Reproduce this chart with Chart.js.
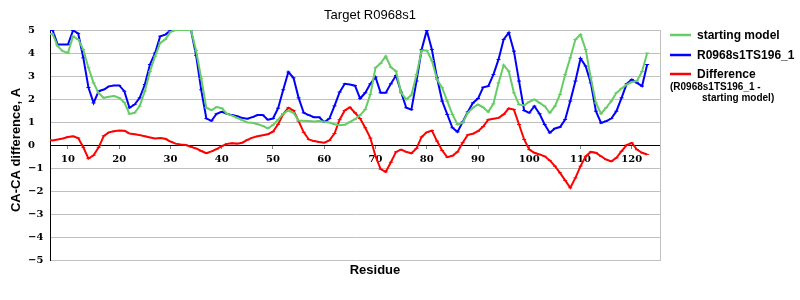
<!DOCTYPE html>
<html>
<head>
<meta charset="utf-8">
<title>Target R0968s1</title>
<script src="https://cdn.jsdelivr.net/npm/chart.js@4/dist/chart.umd.min.js"></script>
<style>
  html, body { margin: 0; padding: 0; background: #fff; }
  #wrap { width: 800px; height: 300px; }
</style>
</head>
<body>
<div id="wrap"><canvas id="chart" width="800" height="300"></canvas></div>
<script>
// residue numbers run from firstResidue, one value per residue
const firstResidue = 6;

const startingModel = [
  4.83, 4.83, 4.30, 4.08, 4.00, 4.73, 4.59, 4.15, 3.36, 2.70,
  2.25, 2.05, 2.10, 2.13, 2.05, 1.85, 1.35, 1.40, 1.69, 2.34,
  3.20, 3.86, 4.44, 4.59, 4.92, 5.00, 5.00, 5.00, 5.00, 4.10,
  2.90, 1.62, 1.52, 1.65, 1.60, 1.36, 1.28, 1.18, 1.08, 0.98,
  0.97, 0.90, 0.83, 0.72, 0.87, 1.10, 1.36, 1.50, 1.40, 1.06,
  1.05, 1.04, 1.02, 1.04, 1.01, 0.98, 0.90, 0.86, 0.88, 1.00,
  1.12, 1.30, 1.54, 2.20, 3.36, 3.55, 3.86, 3.38, 3.21, 2.27,
  1.98, 2.17, 3.06, 4.11, 4.11, 3.67, 2.85, 2.49, 1.91, 1.33,
  0.89, 0.96, 1.40, 1.62, 1.76, 1.64, 1.44, 1.79, 2.70, 3.47,
  3.21, 2.27, 1.76, 1.73, 1.88, 1.98, 1.83, 1.69, 1.40, 1.69,
  2.20, 3.06, 3.79, 4.59, 4.80, 4.15, 2.92, 1.83, 1.36, 1.62,
  1.91, 2.27, 2.46, 2.63, 2.74, 2.78, 3.20, 4.00
];

const modelR0968s1TS196 = [
  5.00, 5.00, 4.37, 4.37, 4.37, 4.98, 4.85, 3.79, 2.50, 1.83,
  2.34, 2.41, 2.55, 2.59, 2.59, 2.34, 1.62, 1.76, 2.05, 2.63,
  3.50, 4.00, 4.73, 4.80, 4.98, 5.00, 5.00, 5.00, 5.00, 3.90,
  2.40, 1.15, 1.05, 1.36, 1.44, 1.36, 1.30, 1.25, 1.18, 1.14,
  1.21, 1.30, 1.30, 1.10, 1.15, 1.60, 2.40, 3.17, 2.92, 2.05,
  1.40, 1.30, 1.21, 1.21, 1.00, 1.15, 1.70, 2.30, 2.66, 2.63,
  2.58, 2.02, 2.27, 2.66, 2.95, 2.27, 2.27, 2.66, 3.02, 2.30,
  1.62, 1.54, 2.78, 4.15, 4.98, 4.15, 2.92, 1.91, 1.33, 0.75,
  0.57, 1.00, 1.44, 1.83, 2.02, 2.51, 2.56, 3.06, 3.72, 4.59,
  4.88, 4.08, 2.78, 1.50, 1.40, 1.69, 1.36, 0.89, 0.53, 0.72,
  0.78, 1.11, 1.91, 2.78, 3.76, 3.43, 2.70, 1.47, 0.96, 1.04,
  1.15, 1.47, 2.05, 2.66, 2.85, 2.70, 2.56, 3.50
];

const difference = [
  0.24, 0.20, 0.24, 0.28, 0.35, 0.38, 0.30, -0.10, -0.59, -0.45,
  -0.10, 0.40, 0.55, 0.60, 0.63, 0.62, 0.50, 0.47, 0.43, 0.38,
  0.33, 0.28, 0.30, 0.27, 0.15, 0.06, 0.02, 0.00, -0.08, -0.15,
  -0.26, -0.36, -0.28, -0.18, -0.05, 0.05, 0.08, 0.06, 0.10, 0.22,
  0.32, 0.38, 0.42, 0.47, 0.58, 0.90, 1.35, 1.62, 1.50, 1.04,
  0.55, 0.24, 0.17, 0.13, 0.10, 0.20, 0.50, 1.10, 1.50, 1.64,
  1.40, 1.15, 0.75, 0.30, -0.49, -1.05, -1.17, -0.75, -0.30, -0.20,
  -0.30, -0.36, -0.15, 0.35, 0.55, 0.63, 0.17, -0.24, -0.53, -0.47,
  -0.30, 0.10, 0.44, 0.49, 0.60, 0.80, 1.10, 1.14, 1.18, 1.33,
  1.59, 1.54, 0.89, 0.24, -0.20, -0.34, -0.41, -0.49, -0.67, -0.92,
  -1.21, -1.54, -1.86, -1.43, -0.92, -0.49, -0.30, -0.34, -0.49, -0.63,
  -0.71, -0.56, -0.27, 0.00, 0.09, -0.20, -0.34, -0.41
];

const xTickValues = [10, 20, 30, 40, 50, 60, 70, 80, 90, 100, 110, 120];
const yMin = -5, yMax = 5;

const sans = '"Liberation Sans", Arial, sans-serif';
const serif = '"DejaVu Serif", serif';

function toPoints(values) {
  return values.map((v, i) => ({ x: firstResidue + i, y: v }));
}

function series(label, values, color) {
  return {
    label: label,
    data: toPoints(values),
    borderColor: color,
    backgroundColor: color,
    borderWidth: 2,
    pointStyle: 'line',
    pointRadius: 2,
    pointBorderWidth: 1,
    pointBorderColor: color,
    tension: 0,
    fill: false
  };
}

// titles, right border and the legend block
const decorations = {
  id: 'decorations',
  afterDraw(chart) {
    const { ctx, chartArea } = chart;
    ctx.save();
    ctx.strokeStyle = '#c0c0c0';
    ctx.lineWidth = 1;
    ctx.beginPath();
    ctx.moveTo(chartArea.right + 0.5, chartArea.top);
    ctx.lineTo(chartArea.right + 0.5, chartArea.bottom + 1);
    ctx.stroke();

    ctx.fillStyle = '#000';
    ctx.textBaseline = 'middle';
    ctx.textAlign = 'center';
    ctx.font = '13px ' + sans;
    ctx.fillText('Target R0968s1', 370, 15);
    ctx.font = 'bold 13px ' + sans;
    ctx.fillText('Residue', 375, 270);
    ctx.save();
    ctx.translate(16.5, 150);
    ctx.rotate(-Math.PI / 2);
    ctx.fillText('CA-CA difference, A', 0, 0);
    ctx.restore();

    const rows = [35, 55, 74];
    ctx.textAlign = 'left';
    chart.data.datasets.forEach((ds, i) => {
      const y = rows[i];
      ctx.strokeStyle = ds.borderColor;
      ctx.lineWidth = 2.5;
      ctx.beginPath();
      ctx.moveTo(670, y);
      ctx.lineTo(691, y);
      ctx.stroke();
      ctx.font = 'bold 12px ' + sans;
      ctx.fillText(ds.label, 697, y + 0.5);
    });
    ctx.font = 'bold 10px ' + sans;
    ctx.fillText('(R0968s1TS196_1 -', 670, 87);
    ctx.fillText('starting model)', 702, 98);
    ctx.restore();
  }
};

const chart = new Chart(document.getElementById('chart'), {
  type: 'line',
  data: {
    datasets: [
      series('starting model', startingModel, '#66cc66'),
      series('R0968s1TS196_1', modelR0968s1TS196, '#0000ff'),
      series('Difference', difference, '#ff0000')
    ]
  },
  options: {
    responsive: false,
    animation: false,
    events: [],
    layout: { padding: { left: 28, right: 140, top: 30, bottom: 40 } },
    plugins: {
      legend: { display: false },
      tooltip: { enabled: false },
      title: { display: false }
    },
    scales: {
      x: {
        type: 'linear',
        position: { y: 0 },
        min: 6.5,
        max: 125.5,
        afterBuildTicks: axis => { axis.ticks = xTickValues.map(v => ({ value: v })); },
        ticks: {
          autoSkip: false,
          maxRotation: 0,
          padding: 5,
          color: '#000',
          font: { family: serif, size: 10, weight: 'bold' }
        },
        grid: { drawOnChartArea: false, drawTicks: true, tickLength: 3, tickColor: '#808080' },
        border: { display: true, color: '#000', width: 1 }
      },
      y: {
        type: 'linear',
        position: 'left',
        min: yMin,
        max: yMax,
        afterFit: axis => { axis.width = 22; },
        ticks: {
          stepSize: 1,
          crossAlign: 'far',
          color: '#000',
          font: { family: serif, size: 10, weight: 'bold' },
          callback: v => (v < 0 ? '\u2212' + Math.abs(v) : String(v))
        },
        grid: {
          drawTicks: false,
          color: c => (c.tick && c.tick.value === 0 ? '#000000' : '#c0c0c0')
        },
        border: { display: true, color: '#000', width: 1 }
      }
    }
  },
  plugins: [decorations]
});
</script>
</body>
</html>
